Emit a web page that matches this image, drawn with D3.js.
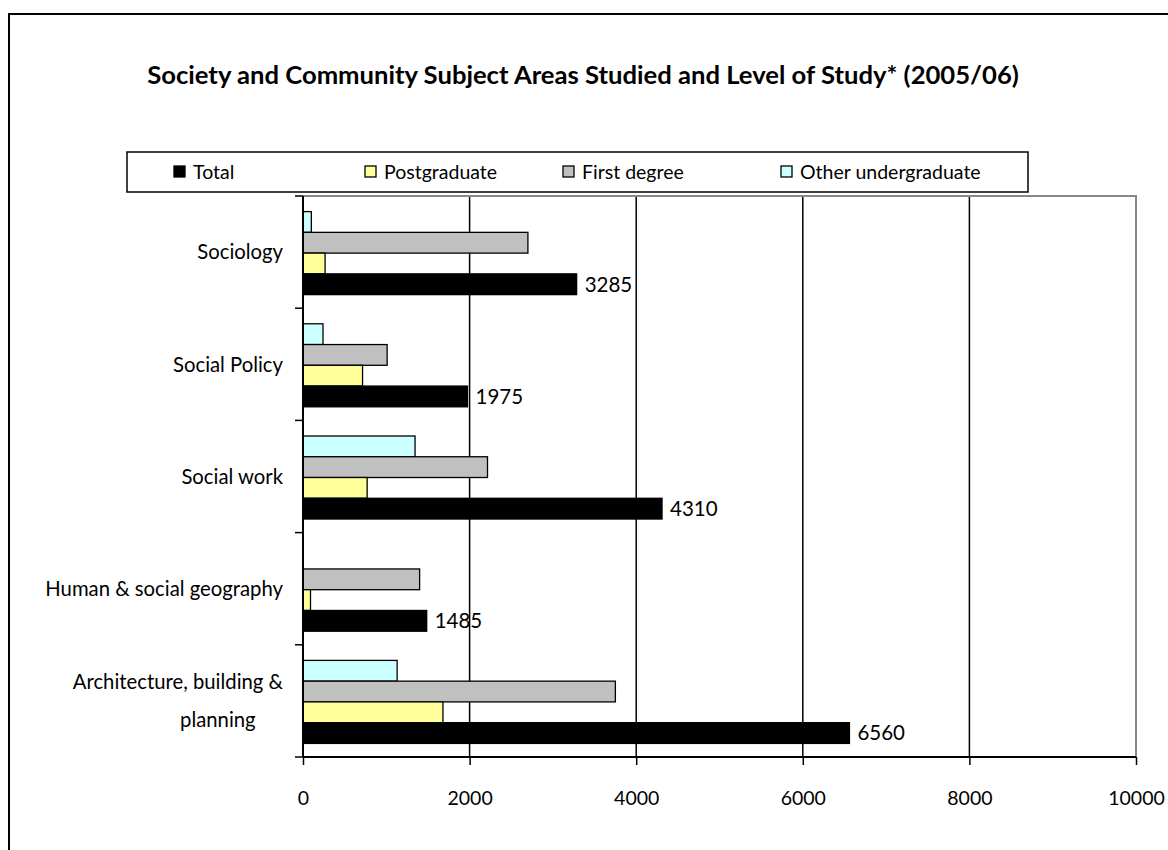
<!DOCTYPE html>
<html>
<head>
<meta charset="utf-8">
<script src="https://cdn.jsdelivr.net/npm/d3@7"></script>
<style>
  html, body { margin: 0; padding: 0; background: #fff; }
  svg { display: block; }
  text { font-family: Lato, "Open Sans", sans-serif; fill: #000; }
</style>
</head>
<body>
<svg id="chart" width="1168" height="850"></svg>
<script>
// Subject areas (top to bottom) and their label lines
const categories = ["Sociology", "Social Policy", "Social work", "Human & social geography", "Architecture, building & planning"];
const categoryLines = [["Sociology"], ["Social Policy"], ["Social work"], ["Human & social geography"], ["Architecture, building &", "planning"]];

// Level of study series
const seriesNames = ["Total", "Postgraduate", "First degree", "Other undergraduate"];
const seriesColors = ["#000000", "#FFFF99", "#C0C0C0", "#CCFFFF"];

// Student numbers per subject area
const total = [3285, 1975, 4310, 1485, 6560];
const postgraduate = [265, 715, 770, 90, 1680];
const firstDegree = [2700, 1010, 2215, 1400, 3750];
const otherUndergraduate = [100, 240, 1345, 0, 1130];

const xTicks = [0, 2000, 4000, 6000, 8000, 10000];
const titleText = "Society and Community Subject Areas Studied and Level of Study* (2005/06)";

const seriesValues = [total, postgraduate, firstDegree, otherUndergraduate];

const svg = d3.select("#chart");

// outer chart frame
svg.append("rect")
  .attr("x", 9).attr("y", 14)
  .attr("width", 1200).attr("height", 900)
  .attr("fill", "none").attr("stroke", "#000").attr("stroke-width", 2);

// title, sized to its box width
const title = svg.append("text")
  .attr("x", 583).attr("y", 84)
  .attr("text-anchor", "middle")
  .style("font-weight", "bold")
  .style("font-size", "20px")
  .text(titleText);
{
  const w = title.node().getComputedTextLength();
  title.style("font-size", (20 * 872 / w).toFixed(2) + "px");
}

// plot geometry
const plot = { left: 303, right: 1136, top: 196, bottom: 757 };

const x = d3.scaleLinear().domain([0, 10000]).range([plot.left, plot.right]);
const y = d3.scaleBand().domain(categories).range([plot.top, plot.bottom]).paddingInner(0).paddingOuter(0);

// bars inside a band, from top: Other undergraduate, First degree, Postgraduate, Total
const barOrder = [3, 2, 1, 0];
const inner = d3.scaleBand()
  .domain(barOrder)
  .range([y.bandwidth() * 0.139, y.bandwidth() * 0.879])
  .paddingInner(0);

// vertical gridlines
svg.append("g")
  .selectAll("line")
  .data(xTicks.filter(t => t > 0 && t < 10000))
  .join("line")
  .attr("x1", d => x(d)).attr("x2", d => x(d))
  .attr("y1", plot.top).attr("y2", plot.bottom)
  .attr("stroke", "#000").attr("stroke-width", 1.5);

// plot area border (top and right), grey
svg.append("path")
  .attr("d", `M${plot.left},${plot.top}H${plot.right}V${plot.bottom}`)
  .attr("fill", "none").attr("stroke", "#888").attr("stroke-width", 2);

// bars
const rows = categories.map((c, i) => ({ c, i }));
const groups = svg.append("g").selectAll("g")
  .data(rows)
  .join("g")
  .attr("transform", d => `translate(0,${y(d.c)})`);

groups.selectAll("rect")
  .data(d => barOrder.map(s => ({ s, v: seriesValues[s][d.i] })).filter(b => b.v > 0))
  .join("rect")
  .attr("x", x(0))
  .attr("y", d => inner(d.s))
  .attr("width", d => x(d.v) - x(0))
  .attr("height", inner.bandwidth())
  .attr("fill", d => seriesColors[d.s])
  .attr("stroke", "#000")
  .attr("stroke-width", 1.3);

// total value labels
groups.append("text")
  .attr("x", d => x(total[d.i]) + 8)
  .attr("y", inner(0) + inner.bandwidth() / 2)
  .attr("dy", "0.36em")
  .style("font-size", "20.5px")
  .text(d => total[d.i]);

// x axis
const xAxis = svg.append("g")
  .attr("transform", `translate(0,${plot.bottom})`)
  .call(d3.axisBottom(x).tickValues(xTicks).tickSize(8).tickPadding(26).tickFormat(d3.format("d")));
xAxis.select(".domain").attr("stroke", "#000").attr("stroke-width", 2).attr("d", `M${plot.left},0H${plot.right}`);
xAxis.selectAll(".tick line").attr("stroke", "#000").attr("stroke-width", 1.5);
xAxis.selectAll(".tick text").style("font-size", "19.5px").style("font-family", "Lato, sans-serif").attr("fill", "#000");

// y axis with ticks at category boundaries
const boundaries = categories.map(c => y(c)).concat([plot.bottom]);
const yAxis = svg.append("g");
yAxis.append("line")
  .attr("x1", plot.left).attr("x2", plot.left)
  .attr("y1", plot.top).attr("y2", plot.bottom)
  .attr("stroke", "#000").attr("stroke-width", 2);
yAxis.selectAll("line.tick")
  .data(boundaries)
  .join("line")
  .attr("class", "tick")
  .attr("x1", plot.left - 8).attr("x2", plot.left)
  .attr("y1", d => d).attr("y2", d => d)
  .attr("stroke", "#000").attr("stroke-width", 1.5);

// category labels
const labelSize = "20.3px";
rows.forEach(d => {
  const lines = categoryLines[d.i];
  const cy = y(d.c) + y.bandwidth() / 2;
  if (lines.length === 1) {
    svg.append("text")
      .attr("x", 283).attr("y", cy).attr("dy", "0.36em")
      .attr("text-anchor", "end")
      .style("font-size", labelSize)
      .text(lines[0]);
  } else {
    const t1 = svg.append("text")
      .attr("x", 283).attr("y", cy - 19).attr("dy", "0.36em")
      .attr("text-anchor", "end")
      .style("font-size", labelSize)
      .text(lines[0]);
    const w = t1.node().getComputedTextLength();
    svg.append("text")
      .attr("x", 283 - w * 0.31).attr("y", cy + 19).attr("dy", "0.36em")
      .attr("text-anchor", "middle")
      .style("font-size", labelSize)
      .text(lines[1]);
  }
});

// legend
const legend = svg.append("g");
legend.append("rect")
  .attr("x", 127).attr("y", 152)
  .attr("width", 901).attr("height", 40)
  .attr("fill", "#fff").attr("stroke", "#000").attr("stroke-width", 1.5);
const legendX = [174, 365, 563, 781];
const items = legend.selectAll("g")
  .data(seriesNames.map((n, i) => ({ n, i })))
  .join("g")
  .attr("transform", d => `translate(${legendX[d.i]},172)`);
items.append("rect")
  .attr("x", 0).attr("y", -6)
  .attr("width", 11).attr("height", 11)
  .attr("fill", d => seriesColors[d.i])
  .attr("stroke", "#000").attr("stroke-width", 1.3);
items.append("text")
  .attr("x", 19).attr("y", 0).attr("dy", "0.36em")
  .style("font-size", "19.5px")
  .text(d => d.n);
</script>
</body>
</html>
